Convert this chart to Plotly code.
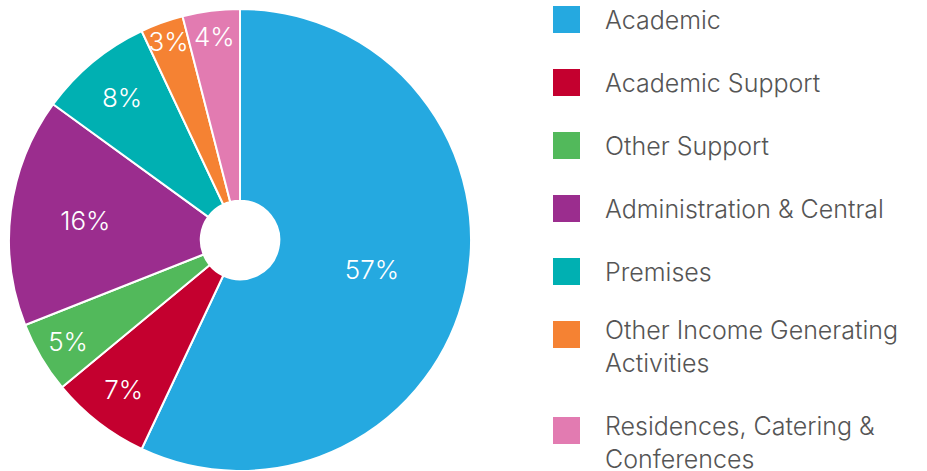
import plotly.graph_objects as go

labels = ["Academic", "Academic Support", "Other Support", "Administration & Central",
          "Premises", "Other Income Generating<br>Activities", "Residences, Catering &<br>Conferences"]
values = [57, 7, 5, 16, 8, 3, 4]
colors = ["#25A9E0", "#C4002F", "#52B95B", "#9B2D8E", "#00B0B2", "#F58233", "#E27BB1"]

W, H = 927, 471
FONT = "Inter"

fig = go.Figure()
fig.add_trace(go.Pie(
    labels=labels, values=values, sort=False, direction="clockwise", rotation=0,
    hole=0.17,
    marker=dict(colors=colors, line=dict(color="white", width=2)),
    textinfo="percent", texttemplate="%{percent:.0%}",
    textposition="inside", insidetextorientation="horizontal",
    insidetextfont=dict(color="white", size=26, family=FONT, weight=300),
    domain=dict(x=[9 / W, 471 / W], y=[0, 1 - 9 / H]),
    showlegend=False, hoverinfo="label+percent",
))

# custom legend
shapes, annots = [], []
yc = 19.5
for lab, col in zip(labels, colors):
    nlines = lab.count("<br>") + 1
    shapes.append(dict(type="rect", xref="paper", yref="paper",
                       x0=553 / W, x1=580 / W, y0=1 - (yc + 13.5) / H, y1=1 - (yc - 13.5) / H,
                       fillcolor=col, line=dict(width=0)))
    top = yc - 17 - (5 if nlines > 1 else 0)
    annots.append(dict(text=lab, xref="paper", yref="paper", x=603 / W, y=1 - top / H,
                       xanchor="left", yanchor="top", align="left", showarrow=False,
                       font=dict(size=25, color="#555555", family=FONT, weight=300)))
    yc += 63 + 33 * (nlines - 1)

fig.update_layout(
    width=W, height=H, margin=dict(l=0, r=0, t=0, b=0),
    paper_bgcolor="white", plot_bgcolor="white",
    uniformtext=dict(minsize=26, mode="show"),
    shapes=shapes, annotations=annots,
    font=dict(family=FONT),
)
fig.write_html("out.html", config={"displayModeBar": False},
               post_script="document.body.style.margin='0';document.body.style.overflow='hidden';")
